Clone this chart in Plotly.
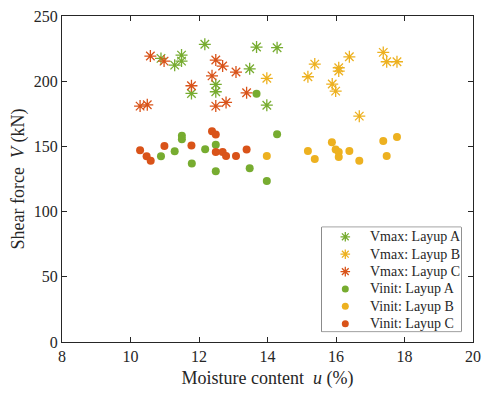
import plotly.graph_objects as go

# Vmax (stars)
vmax_a_u = [10.89, 11.49, 11.49, 11.29, 12.17, 11.78, 12.49, 12.49, 13.68, 14.28, 13.48, 13.98]
vmax_a_v = [217.5, 220.0, 215.4, 212.3, 228.3, 190.6, 197.5, 191.9, 226.2, 225.7, 209.5, 181.6]
vmax_b_u = [13.98, 15.18, 15.38, 16.39, 16.08, 16.08, 15.89, 15.99, 17.38, 17.48, 17.78, 16.68]
vmax_b_v = [202.2, 203.4, 213.1, 218.7, 210.3, 207.8, 197.8, 192.4, 222.1, 214.9, 214.9, 173.2]
vmax_c_u = [10.58, 10.98, 11.78, 12.38, 12.49, 12.69, 13.08, 13.39, 12.79, 12.49, 10.28, 10.49]
vmax_c_v = [219.3, 215.4, 196.5, 204.1, 216.2, 211.6, 207.0, 191.1, 183.7, 180.9, 180.9, 181.9]

# Vinit (circles)
vinit_a_u = [13.68, 11.50, 11.50, 10.89, 11.29, 12.18, 11.79, 12.49, 12.49, 13.48, 14.28, 13.98]
vinit_a_v = [190.3, 158.1, 155.5, 142.5, 146.3, 147.8, 136.9, 151.2, 131.0, 133.3, 159.4, 123.5]
vinit_b_u = [13.98, 15.18, 15.38, 15.88, 15.99, 16.08, 16.08, 16.39, 16.68, 17.38, 17.48, 17.78]
vinit_b_v = [142.7, 146.5, 140.4, 153.2, 147.6, 145.8, 141.9, 146.5, 138.9, 154.2, 142.7, 157.3]
vinit_c_u = [10.28, 10.47, 10.59, 10.99, 11.78, 12.38, 12.49, 12.49, 12.69, 12.79, 13.08, 13.39]
vinit_c_v = [147.1, 142.5, 138.9, 150.4, 150.7, 161.7, 159.1, 145.8, 145.8, 142.7, 142.7, 147.6]

legend_names = ["Vmax: Layup A", "Vmax: Layup B", "Vmax: Layup C",
                "Vinit: Layup A", "Vinit: Layup B", "Vinit: Layup C"]

GREEN = "#77AC30"
ORANGE = "#EDB120"
RED = "#D95319"
TXT = "#262626"
FONT = "Liberation Serif"

series = [
    (vmax_a_u, vmax_a_v, GREEN, "star"),
    (vmax_b_u, vmax_b_v, ORANGE, "star"),
    (vmax_c_u, vmax_c_v, RED, "star"),
    (vinit_a_u, vinit_a_v, GREEN, "dot"),
    (vinit_b_u, vinit_b_v, ORANGE, "dot"),
    (vinit_c_u, vinit_c_v, RED, "dot"),
]

def marker_for(kind, color, small=False):
    if kind == "star":
        return dict(symbol="asterisk-open", size=8 if small else 10, color=color,
                    line=dict(color=color, width=1.3))
    return dict(symbol="circle", size=7 if small else 8, color=color, line=dict(width=0))

fig = go.Figure()

for (u, v, color, kind), name in zip(series, legend_names):
    fig.add_trace(go.Scatter(x=u, y=v, mode="markers", name=name,
                             marker=marker_for(kind, color), showlegend=False))

# Custom legend drawn in an overlay subplot (compact row spacing like the reference)
n = len(legend_names)
row_y = [1 - (i + 0.55) / n for i in range(n)]
for i, ((u, v, color, kind), name) in enumerate(zip(series, legend_names)):
    fig.add_trace(go.Scatter(x=[0.169], y=[row_y[i]], mode="markers",
                             marker=marker_for(kind, color, small=True),
                             xaxis="x2", yaxis="y2", showlegend=False,
                             hoverinfo="skip"))
    fig.add_annotation(x=0.33, y=row_y[i], xref="x2", yref="y2", text=name,
                       showarrow=False, xanchor="left", yanchor="middle",
                       font=dict(family=FONT, size=14, color=TXT))

fig.add_shape(type="rect", xref="x2 domain", yref="y2 domain", x0=0, x1=1, y0=0, y1=1,
              line=dict(color="#333333", width=1), fillcolor="white", layer="below")

axis_common = dict(
    showgrid=False, zeroline=False, showline=True, linecolor=TXT, linewidth=1,
    mirror="ticks", ticks="inside", ticklen=5, tickcolor=TXT, tickwidth=1,
    tickfont=dict(family=FONT, size=16, color=TXT),
)

fig.update_layout(
    width=486, height=395,
    margin=dict(l=62, r=5, t=16, b=53),
    paper_bgcolor="white", plot_bgcolor="white",
    font=dict(family=FONT, color=TXT),
    xaxis=dict(range=[8, 20], tickvals=[8, 10, 12, 14, 16, 18, 20],
               ticklabeloverflow="allow",
               title=dict(text="Moisture content&nbsp; <i>u</i> (%)",
                          font=dict(family=FONT, size=18, color=TXT), standoff=7),
               **axis_common),
    yaxis=dict(range=[0, 250], tickvals=[0, 50, 100, 150, 200, 250],
               title=dict(text="Shear force&nbsp; <i>V</i> (kN)",
                          font=dict(family=FONT, size=18, color=TXT), standoff=4),
               **axis_common),
    xaxis2=dict(domain=[0.632, 0.971], range=[0, 1], anchor="y2", visible=False,
                fixedrange=True),
    yaxis2=dict(domain=[0.032, 0.352], range=[0, 1], anchor="x2", visible=False,
                fixedrange=True),
    showlegend=False,
)

fig.write_html("out.html")
